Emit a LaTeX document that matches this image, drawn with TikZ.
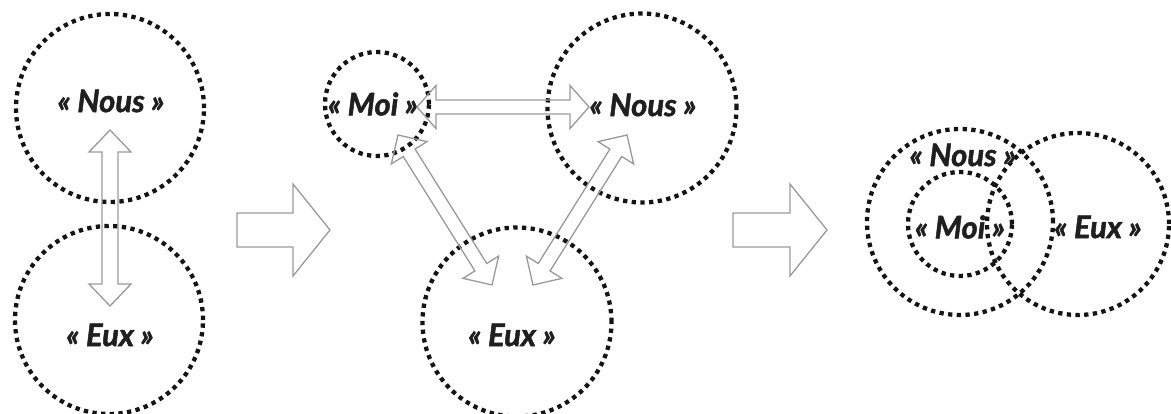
\documentclass[tikz,border=0pt]{standalone}
\usepackage{fontspec}
\setmainfont{Lato}[BoldItalicFeatures={FakeBold=1.6}]
\usetikzlibrary{calc}
\newcommand\dblarr[5]{%
  \coordinate (#1-b) at ($(#1)!#3!(#2)$);
  \coordinate (#2-b) at ($(#2)!#3!(#1)$);
  \draw[arr] (#1) -- ($(#1-b)!#4!90:(#2)$) -- ($(#1-b)!#5!90:(#2)$)
    -- ($(#2-b)!#5!-90:(#1)$) -- ($(#2-b)!#4!-90:(#1)$) -- (#2)
    -- ($(#2-b)!#4!90:(#1)$) -- ($(#2-b)!#5!90:(#1)$)
    -- ($(#1-b)!#5!-90:(#2)$) -- ($(#1-b)!#4!-90:(#2)$) -- cycle;}
\newcommand\sglarr[5]{%
  \coordinate (#2-b) at ($(#2)!#3!(#1)$);
  \draw[arr] ($(#1)!#5!90:(#2)$) -- ($(#2-b)!#5!-90:(#1)$) -- ($(#2-b)!#4!-90:(#1)$)
    -- (#2) -- ($(#2-b)!#4!90:(#1)$) -- ($(#2-b)!#5!90:(#1)$)
    -- ($(#1)!#5!-90:(#2)$) -- cycle;}
\begin{document}
\begin{tikzpicture}[x=1pt,y=-1pt,
  ring/.style={circle,draw=black!92,line width=4.3pt,dash pattern=on 4.3pt off 4.4pt,inner sep=0pt},
  lbl/.style={font=\fontsize{31}{35}\selectfont\bfseries\itshape,text=black!88,inner sep=0pt},
  arr/.style={draw=black!40,line width=1.3pt,line join=miter}]
\useasboundingbox (0,0) rectangle (1171,414);
% panel 1
\node[ring,minimum size=188pt] (nous1) at (110,108) {};
\node[ring,minimum size=188pt] (eux1) at (109,320) {};
\node[lbl] (tnous1) at (111,101) {« Nous »};
\node[lbl] (teux1) at (110,335) {« Eux »};
\coordinate (a1) at (110,130);
\coordinate (b1) at (110,306);
\dblarr{a1}{b1}{22pt}{21pt}{8pt}
% big arrow 1
\coordinate (s1) at (237,230);
\coordinate (t1) at (330,230);
\sglarr{s1}{t1}{37pt}{46pt}{17pt}
% panel 2
\node[ring,minimum size=104pt] (moi2) at (377,104) {};
\node[ring,minimum size=189pt] (nous2) at (642,108) {};
\node[ring,minimum size=189pt] (eux2) at (517,322) {};
\node[lbl] (tmoi2) at (373,104) {« Moi »};
\node[lbl] (tnous2) at (643,105) {« Nous »};
\node[lbl] (teux2) at (512,335) {« Eux »};
\coordinate (a2) at (417,107);
\coordinate (b2) at (589,107);
\dblarr{a2}{b2}{19pt}{21.5pt}{7pt}
\coordinate (a3) at (398,135);
\coordinate (b3) at (492,285);
\dblarr{a3}{b3}{21pt}{21pt}{7pt}
\coordinate (a4) at (627,135);
\coordinate (b4) at (533,285);
\dblarr{a4}{b4}{21pt}{21pt}{7pt}
% big arrow 2
\coordinate (s2) at (733,230);
\coordinate (t2) at (827,230);
\sglarr{s2}{t2}{37pt}{46pt}{17pt}
% panel 3
\node[ring,minimum size=186pt] (nous3) at (960,222) {};
\node[ring,minimum size=104pt] (moi3) at (960,224) {};
\node[ring,minimum size=182pt] (eux3) at (1078,224) {};
\node[lbl] (tnous3) at (963,155) {« Nous »};
\node[lbl] (tmoi3) at (960,227) {« Moi »};
\node[lbl] (teux3) at (1098,227) {« Eux »};
\end{tikzpicture}
\end{document}
